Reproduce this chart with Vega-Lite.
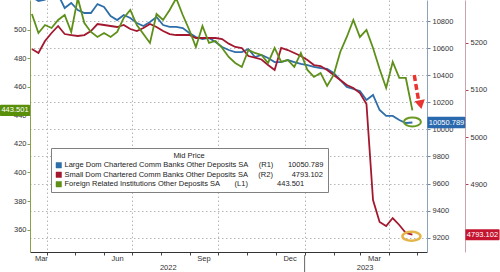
{
  "$schema": "https://vega.github.io/schema/vega-lite/v6.json",
  "width": 397,
  "height": 252,
  "autosize": {"type": "none"},
  "padding": {"left": 30, "top": 0, "right": 73, "bottom": 20},
  "background": "white",
  "config": {
    "view": {"stroke": null},
    "font": "Liberation Sans, Arial, sans-serif",
    "axis": {"labelFontSize": 7.5, "labelColor": "#333333", "labelFlush": false, "labelOverlap": false, "labelBound": false}
  },
  "data": {"values": [
    {"d": "2022-03-16", "L": 10977, "S": 5186.6, "F": 511.0},
    {"d": "2022-03-23", "L": 10948, "S": 5178.2, "F": 497.7},
    {"d": "2022-03-30", "L": 10958, "S": 5203.6, "F": 503.3},
    {"d": "2022-04-06", "L": 11014, "S": 5220.6, "F": 501.2},
    {"d": "2022-04-13", "L": 10995, "S": 5235.4, "F": 506.8},
    {"d": "2022-04-20", "L": 10896, "S": 5218.4, "F": 510.3},
    {"d": "2022-04-27", "L": 10933, "S": 5216.3, "F": 498.4},
    {"d": "2022-05-04", "L": 10881, "S": 5214.2, "F": 522.0},
    {"d": "2022-05-11", "L": 10859, "S": 5216.3, "F": 504.7},
    {"d": "2022-05-18", "L": 10859, "S": 5224.8, "F": 498.4},
    {"d": "2022-05-25", "L": 10925, "S": 5239.6, "F": 494.9},
    {"d": "2022-06-01", "L": 10903, "S": 5237.5, "F": 497.7},
    {"d": "2022-06-08", "L": 10837, "S": 5235.4, "F": 494.9},
    {"d": "2022-06-15", "L": 10807, "S": 5233.3, "F": 498.4},
    {"d": "2022-06-22", "L": 10844, "S": 5237.5, "F": 508.2},
    {"d": "2022-06-29", "L": 10822, "S": 5229.0, "F": 513.8},
    {"d": "2022-07-06", "L": 10785, "S": 5224.8, "F": 503.3},
    {"d": "2022-07-13", "L": 10763, "S": 5231.1, "F": 497.0},
    {"d": "2022-07-20", "L": 10793, "S": 5239.6, "F": 490.7},
    {"d": "2022-07-27", "L": 10830, "S": 5233.3, "F": 511.0},
    {"d": "2022-08-03", "L": 10770, "S": 5224.8, "F": 506.8},
    {"d": "2022-08-10", "L": 10756, "S": 5218.4, "F": 513.8},
    {"d": "2022-08-17", "L": 10756, "S": 5216.3, "F": 522.0},
    {"d": "2022-08-24", "L": 10748, "S": 5216.3, "F": 510.3},
    {"d": "2022-08-31", "L": 10711, "S": 5216.3, "F": 499.8},
    {"d": "2022-09-07", "L": 10682, "S": 5210.0, "F": 487.9},
    {"d": "2022-09-14", "L": 10667, "S": 5210.0, "F": 502.6},
    {"d": "2022-09-21", "L": 10675, "S": 5210.0, "F": 490.7},
    {"d": "2022-09-28", "L": 10645, "S": 5210.0, "F": 492.1},
    {"d": "2022-10-05", "L": 10608, "S": 5207.8, "F": 487.2},
    {"d": "2022-10-12", "L": 10586, "S": 5198.0, "F": 480.9},
    {"d": "2022-10-19", "L": 10571, "S": 5190.9, "F": 476.7},
    {"d": "2022-10-26", "L": 10571, "S": 5188.8, "F": 473.9},
    {"d": "2022-11-02", "L": 10593, "S": 5171.8, "F": 485.8},
    {"d": "2022-11-09", "L": 10534, "S": 5168.6, "F": 483.7},
    {"d": "2022-11-16", "L": 10549, "S": 5164.4, "F": 482.3},
    {"d": "2022-11-23", "L": 10527, "S": 5152.7, "F": 476.7},
    {"d": "2022-11-30", "L": 10497, "S": 5142.2, "F": 487.2},
    {"d": "2022-12-07", "L": 10497, "S": 5188.8, "F": 477.4},
    {"d": "2022-12-14", "L": 10512, "S": 5184.5, "F": 478.8},
    {"d": "2022-12-21", "L": 10497, "S": 5178.2, "F": 473.9},
    {"d": "2022-12-28", "L": 10483, "S": 5171.8, "F": 483.7},
    {"d": "2023-01-04", "L": 10475, "S": 5163.3, "F": 471.8},
    {"d": "2023-01-11", "L": 10461, "S": 5152.7, "F": 466.9},
    {"d": "2023-01-18", "L": 10453, "S": 5150.6, "F": 469.7},
    {"d": "2023-01-25", "L": 10446, "S": 5142.2, "F": 460.6},
    {"d": "2023-02-01", "L": 10417, "S": 5131.6, "F": 468.3},
    {"d": "2023-02-08", "L": 10365, "S": 5121.0, "F": 484.4},
    {"d": "2023-02-15", "L": 10313, "S": 5110.4, "F": 494.9},
    {"d": "2023-02-22", "L": 10298, "S": 5104.0, "F": 506.8},
    {"d": "2023-03-01", "L": 10283, "S": 5093.4, "F": 494.9},
    {"d": "2023-03-08", "L": 10217, "S": 5070.1, "F": 499.8},
    {"d": "2023-03-15", "L": 10254, "S": 4866.7, "F": 487.2},
    {"d": "2023-03-22", "L": 10143, "S": 4820.0, "F": 472.5},
    {"d": "2023-03-29", "L": 10099, "S": 4811.6, "F": 459.2},
    {"d": "2023-04-05", "L": 10099, "S": 4828.5, "F": 477.4},
    {"d": "2023-04-12", "L": 10069, "S": 4813.7, "F": 466.2},
    {"d": "2023-04-19", "L": 10047, "S": 4796.8, "F": 466.2},
    {"d": "2023-04-26", "L": 10050.789, "S": 4793.102, "F": 443.501}
  ]},
  "layer": [
    {
      "layer": [
        {
          "mark": {"type": "line", "clip": true, "strokeWidth": 1.8},
          "encoding": {
            "x": {"field": "d", "type": "temporal", "title": null,
              "scale": {"domain": [{"year": 2022, "month": 3, "date": 14, "utc": true}, {"year": 2023, "month": 5, "date": 11, "hours": 14, "utc": true}]},
              "axis": {"title": null, "orient": "bottom", "tickCount": 40, "values": [
                {"year": 2022, "month": 4, "date": 1, "utc": true}, {"year": 2022, "month": 5, "date": 1, "utc": true},
                {"year": 2022, "month": 6, "date": 1, "utc": true}, {"year": 2022, "month": 7, "date": 1, "utc": true},
                {"year": 2022, "month": 8, "date": 1, "utc": true}, {"year": 2022, "month": 9, "date": 1, "utc": true},
                {"year": 2022, "month": 10, "date": 1, "utc": true}, {"year": 2022, "month": 11, "date": 1, "utc": true},
                {"year": 2022, "month": 12, "date": 1, "utc": true}, {"year": 2023, "month": 1, "date": 1, "utc": true},
                {"year": 2023, "month": 2, "date": 1, "utc": true}, {"year": 2023, "month": 3, "date": 1, "utc": true},
                {"year": 2023, "month": 4, "date": 1, "utc": true}, {"year": 2023, "month": 5, "date": 1, "utc": true}],
                "labels": false, "grid": false, "ticks": true, "tickSize": 3, "tickColor": "#444444", "domain": true, "domainColor": "#333333", "domainWidth": 1.2}},
            "y": {"field": "L", "type": "quantitative", "title": null,
              "scale": {"domain": [9095, 10955], "nice": false, "zero": false},
              "axis": {"title": null, "orient": "right", "tickCount": 40, "values": [9200, 9400, 9600, 9800, 10000, 10200, 10400, 10600, 10800], "format": "d",
                "labelOverlap": false, "labelBound": false,
                "grid": true, "gridDash": [1.5, 2.5], "gridColor": "#b5b5b5", "domainColor": "#8ba2bb", "tickColor": "#6a88a8", "tickSize": 3, "labelPadding": 2}},
            "color": {"datum": "Large", "type": "nominal",
              "scale": {"domain": ["Large", "Small", "Foreign"], "range": ["#2f6ea8", "#a3182f", "#5e8f19"]},
              "legend": {"title": "Mid Price", "orient": "none", "legendX": 21, "legendY": 148, "direction": "vertical",
                "titleAnchor": "middle", "titleFontSize": 7.5, "titleFontWeight": "normal", "titleColor": "#222222", "titlePadding": 2,
                "labelFontSize": 7.5, "labelColor": "#222222", "labelLimit": 400, "labelOffset": 2,
                "symbolType": "square", "symbolSize": 30, "symbolStrokeWidth": 0.5, "rowPadding": 0.5, "padding": 4,
                "strokeColor": "#808080", "fillColor": "white",
                "encoding": {"symbols": {
                  "fill": {"condition": [{"test": "datum.value == 'Large'", "value": "#2f6ea8"}, {"test": "datum.value == 'Small'", "value": "#a3182f"}], "value": "#5e8f19"},
                  "fillOpacity": {"value": 1}}},
                "labelExpr": "datum.label == 'Large' ? 'Large Dom Chartered Comm Banks Other Deposits SA\u00a0\u00a0\u00a0\u00a0\u00a0(R1)\u00a0\u00a0\u00a0\u00a0\u00a0\u00a0\u00a010050.789' : datum.label == 'Small' ? 'Small Dom Chartered Comm Banks Other Deposits SA\u00a0\u00a0\u00a0\u00a0\u00a0(R2)\u00a0\u00a0\u00a0\u00a0\u00a0\u00a0\u00a0\u00a0\u00a04793.102' : 'Foreign Related Institutions Other Deposits SA\u00a0\u00a0\u00a0\u00a0\u00a0\u00a0\u00a0(L1)\u00a0\u00a0\u00a0\u00a0\u00a0\u00a0\u00a0\u00a0\u00a0\u00a0\u00a0\u00a0\u00a0\u00a0443.501'"}}
          }
        },
        {
          "data": {"values": [{}]},
          "mark": {"type": "rule", "strokeDash": [6, 3], "strokeWidth": 3.5, "color": "#e8352f", "strokeCap": "butt"},
          "encoding": {
            "x": {"datum": {"year": 2023, "month": 4, "date": 28, "utc": true}, "type": "temporal", "title": null},
            "x2": {"datum": {"year": 2023, "month": 5, "date": 2, "hours": 12, "utc": true}},
            "y": {"datum": 10401, "type": "quantitative", "title": null},
            "y2": {"datum": 10217}
          }
        },
        {
          "data": {"values": [{}]},
          "mark": {"type": "point", "shape": "triangle-down", "filled": true, "size": 110, "angle": -11, "color": "#e8352f", "opacity": 1},
          "encoding": {
            "x": {"datum": {"year": 2023, "month": 5, "date": 4, "hours": 16, "utc": true}, "type": "temporal", "title": null},
            "y": {"datum": 10183, "type": "quantitative", "title": null}
          }
        },
        {
          "data": {"values": [{}]},
          "mark": {"type": "point", "shape": "M -1 0 A 1 0.53 0 1 1 1 0 A 1 0.53 0 1 1 -1 0 Z", "size": 289, "filled": false, "stroke": "#6b9a22", "strokeWidth": 2, "opacity": 1},
          "encoding": {
            "x": {"datum": {"year": 2023, "month": 4, "date": 26, "utc": true}, "type": "temporal", "title": null},
            "y": {"datum": 10055, "type": "quantitative", "title": null}
          }
        },
        {
          "data": {"values": [{"v": 10050.789}]},
          "mark": {"type": "rect", "color": "#2a69ad", "cornerRadius": 1},
          "encoding": {
            "x": {"datum": {"year": 2023, "month": 5, "date": 12, "utc": true}, "type": "temporal", "title": null},
            "x2": {"datum": {"year": 2023, "month": 6, "date": 21, "hours": 12, "utc": true}},
            "y": {"datum": 10094, "type": "quantitative", "title": null},
            "y2": {"datum": 10008}
          }
        },
        {
          "data": {"values": [{"v": 10050.789}]},
          "mark": {"type": "text", "color": "white", "fontSize": 7.5, "align": "center", "baseline": "middle"},
          "encoding": {
            "x": {"datum": {"year": 2023, "month": 6, "date": 1, "hours": 10, "utc": true}, "type": "temporal", "title": null},
            "y": {"field": "v", "type": "quantitative", "title": null},
            "text": {"field": "v", "type": "quantitative", "format": ".3f"}
          }
        }
      ]
    },
    {
      "layer": [
        {
          "mark": {"type": "line", "clip": true, "strokeWidth": 1.8},
          "encoding": {
            "x": {"field": "d", "type": "temporal", "title": null,
              "scale": {"domain": [{"year": 2022, "month": 3, "date": 14, "utc": true}, {"year": 2023, "month": 5, "date": 11, "hours": 14, "utc": true}]},
              "axis": {"title": null, "orient": "bottom", "tickCount": 40, "values": [{"year": 2022, "month": 8, "date": 8, "utc": true}, {"year": 2023, "month": 3, "date": 6, "utc": true}],
                "labelExpr": "utcFormat(datum.value, '%Y')", "ticks": false, "domain": false, "grid": false, "labelPadding": 11}},
            "y": {"field": "S", "type": "quantitative", "title": null,
              "scale": {"domain": [4756.5, 5290.5], "nice": false, "zero": false},
              "axis": {"title": null, "orient": "right", "offset": 38, "tickCount": 40, "values": [4900, 5000, 5100, 5200], "format": "d", "grid": false,
                "labelOverlap": false, "labelBound": false,
                "domainColor": "#c9a3ae", "tickColor": "#b04060", "tickSize": 3, "labelPadding": 2}},
            "color": {"datum": "Small", "type": "nominal", "legend": null}
          }
        },
        {
          "data": {"values": [{}]},
          "mark": {"type": "rule", "color": "#666666", "strokeWidth": 1},
          "encoding": {
            "x": {"datum": {"year": 2023, "month": 1, "date": 1, "utc": true}, "type": "temporal", "title": null},
            "y": {"datum": 4750, "type": "quantitative", "title": null},
            "y2": {"datum": 4714}
          }
        },
        {
          "data": {"values": [{}]},
          "mark": {"type": "point", "shape": "M -1 0 A 1 0.5 0 1 1 1 0 A 1 0.5 0 1 1 -1 0 Z", "size": 324, "filled": false, "stroke": "#e3b449", "strokeWidth": 2.5, "opacity": 1},
          "encoding": {
            "x": {"datum": {"year": 2023, "month": 4, "date": 25, "utc": true}, "type": "temporal", "title": null},
            "y": {"datum": 4790, "type": "quantitative", "title": null}
          }
        },
        {
          "data": {"values": [{"v": 4793.102}]},
          "mark": {"type": "rect", "color": "#c4142f", "cornerRadius": 1},
          "encoding": {
            "x": {"datum": {"year": 2023, "month": 6, "date": 21, "hours": 14, "utc": true}, "type": "temporal", "title": null},
            "x2": {"datum": {"year": 2023, "month": 7, "date": 28, "utc": true}},
            "y": {"datum": 4804.8, "type": "quantitative", "title": null},
            "y2": {"datum": 4781.4}
          }
        },
        {
          "data": {"values": [{"v": 4793.102}]},
          "mark": {"type": "text", "color": "white", "fontSize": 7.5, "align": "center", "baseline": "middle"},
          "encoding": {
            "x": {"datum": {"year": 2023, "month": 7, "date": 9, "hours": 18, "utc": true}, "type": "temporal", "title": null},
            "y": {"field": "v", "type": "quantitative", "title": null},
            "text": {"field": "v", "type": "quantitative", "format": ".3f"}
          }
        }
      ]
    },
    {
      "layer": [
        {
          "mark": {"type": "line", "clip": true, "strokeWidth": 1.8},
          "encoding": {
            "x": {"field": "d", "type": "temporal", "title": null,
              "scale": {"domain": [{"year": 2022, "month": 3, "date": 14, "utc": true}, {"year": 2023, "month": 5, "date": 11, "hours": 14, "utc": true}]},
              "axis": {"title": null, "orient": "bottom", "tickCount": 40, "values": [
                {"year": 2022, "month": 4, "date": 1, "utc": true}, {"year": 2022, "month": 7, "date": 1, "utc": true},
                {"year": 2022, "month": 10, "date": 1, "utc": true}, {"year": 2023, "month": 1, "date": 1, "utc": true},
                {"year": 2023, "month": 4, "date": 1, "utc": true}],
                "labelExpr": "utcFormat(datum.value - 432000000, '%b')",
                "labelOffset": {"condition": {"test": "datum.index == 0", "value": -6}, "value": -15},
                "grid": true, "gridDash": [1.5, 2.5], "gridColor": "#b5b5b5", "ticks": false, "domain": false, "labelPadding": 2}},
            "y": {"field": "F", "type": "quantitative", "title": null,
              "scale": {"domain": [344.3, 520.8], "nice": false, "zero": false},
              "axis": {"title": null, "orient": "left", "tickCount": 40, "values": [360, 380, 400, 420, 440, 460, 480, 500], "format": "d", "grid": false,
                "labelOverlap": false, "labelBound": false,
                "domainColor": "#8aa04a", "tickColor": "#8aa04a", "tickSize": 3, "labelPadding": 1}},
            "color": {"datum": "Foreign", "type": "nominal", "legend": null}
          }
        },
        {
          "data": {"values": [{"v": 443.501}]},
          "mark": {"type": "rect", "color": "#5a8f0a", "cornerRadius": 1},
          "encoding": {
            "x": {"datum": {"year": 2022, "month": 2, "date": 10, "utc": true}, "type": "temporal", "title": null},
            "x2": {"datum": {"year": 2022, "month": 3, "date": 14, "utc": true}},
            "y": {"datum": 447.4, "type": "quantitative", "title": null},
            "y2": {"datum": 439.6}
          }
        },
        {
          "data": {"values": [{"v": 443.501}]},
          "mark": {"type": "text", "color": "white", "fontSize": 7.5, "align": "center", "baseline": "middle"},
          "encoding": {
            "x": {"datum": {"year": 2022, "month": 2, "date": 26, "utc": true}, "type": "temporal", "title": null},
            "y": {"field": "v", "type": "quantitative", "title": null},
            "text": {"field": "v", "type": "quantitative", "format": ".3f"}
          }
        }
      ]
    }
  ],
  "resolve": {"scale": {"y": "independent"}, "axis": {"x": "independent"}}
}
